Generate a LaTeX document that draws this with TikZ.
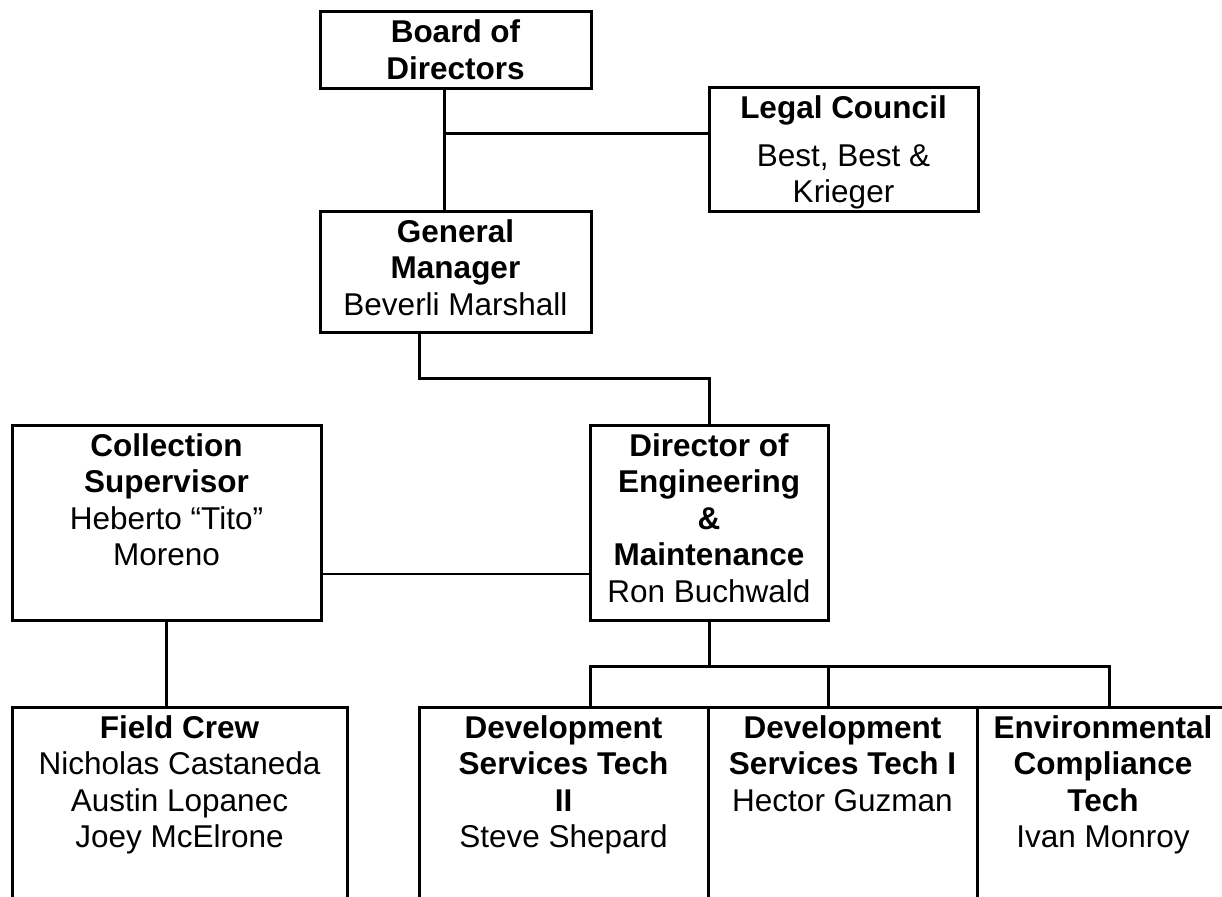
\documentclass[tikz,border=0pt]{standalone}
\usepackage{fontspec}
\setmainfont{Liberation Sans}
\usetikzlibrary{calc}
\newcommand\boxcontent[3]{\parbox[c][#2][t]{#1}{\centering\fontsize{31.5pt}{36.5pt}\selectfont\rule{0pt}{31pt}#3\par}}
\begin{document}
\begin{tikzpicture}[x=1pt,y=-1pt,
  box/.style={draw=black, line width=3pt, inner sep=0pt, outer sep=0pt, anchor=north west},
  conn/.style={draw=black, line width=3pt},
  thinconn/.style={draw=black, line width=2pt}]
\useasboundingbox (0,0) rectangle (1222,896);
\clip (0,0) rectangle (1222,896);
\fill[white] (0,0) rectangle (1222,896);

% boxes
\node[box] (board) at (320,12) {\boxcontent{271pt}{77pt}{\textbf{Board of\\Directors}}};
\node[box] (legal) at (709,88) {\boxcontent{269pt}{123pt}{\textbf{Legal Council}\\[11pt]Best, Best \&\\Krieger}};
\node[box] (gm) at (320,211) {\boxcontent{271pt}{121pt}{\textbf{General\\Manager}\\Beverli Marshall}};
\node[box] (coll) at (12,425) {\boxcontent{309pt}{195pt}{\textbf{Collection\\Supervisor}\\Heberto “Tito”\\Moreno}};
\node[box] (dir) at (590,425) {\boxcontent{238pt}{195pt}{\textbf{Director of\\Engineering\\\&\\Maintenance}\\Ron Buchwald}};
\node[box] (field) at (12,707) {\boxcontent{335pt}{220pt}{\textbf{Field Crew}\\Nicholas Castaneda\\Austin Lopanec\\Joey McElrone}};
\node[box] (dev2) at (419,707) {\boxcontent{289pt}{220pt}{\textbf{Development\\Services Tech\\II}\\Steve Shepard}};
\node[box] (dev1) at (708,707) {\boxcontent{269pt}{220pt}{\textbf{Development\\Services Tech I}\\Hector Guzman}};
\node[box] (env) at (977,707) {\boxcontent{252pt}{220pt}{\textbf{Environmental\\Compliance\\Tech}\\Ivan Monroy}};

% connectors
\coordinate (bx) at ([xshift=124pt]board.south west);
\coordinate (gx) at ([xshift=124pt]gm.north west);
\draw[conn] (bx) -- (gx);
\coordinate (lj) at ([yshift=-46pt]legal.north west);
\draw[conn] (lj) -- (lj -| bx);

\coordinate (gs) at ([xshift=99pt]gm.south west);
\draw[conn] (gs) -- ++(0,46) -| (dir.north);

\coordinate (cj) at ([yshift=-149pt]coll.north east);
\draw[thinconn] (cj) -- (cj -| dir.west);
\draw[conn] (coll.south) -- (coll.south |- field.north);

\coordinate (bus) at ([yshift=-46pt]dir.south);
\draw[conn] (dir.south) -- (bus);
\coordinate (p2) at ([xshift=171pt]dev2.north west);
\coordinate (p1) at ([xshift=120pt]dev1.north west);
\coordinate (pe) at ([xshift=132pt]env.north west);
\draw[conn] (p2) -- (p2 |- bus) -- (pe |- bus) -- (pe);
\draw[conn] (p1) -- (p1 |- bus);
\end{tikzpicture}
\end{document}
